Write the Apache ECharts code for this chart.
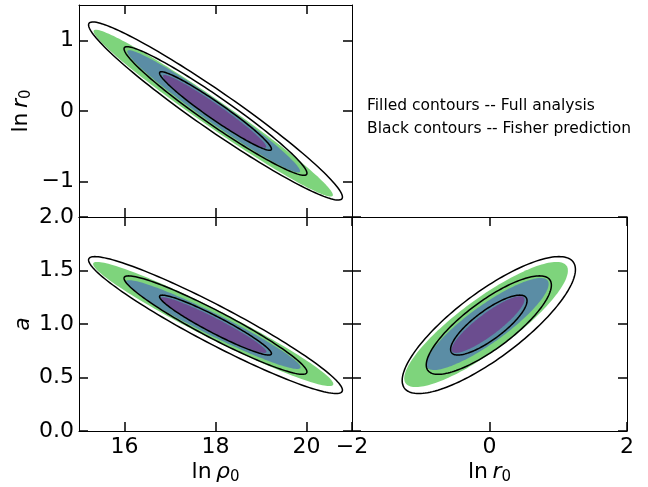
<!DOCTYPE html>
<html>
<head>
<meta charset="utf-8">
<script src="https://cdn.jsdelivr.net/npm/echarts@6/dist/echarts.min.js"></script>
<style>
html,body{margin:0;padding:0;background:#fff;}
#chart{width:648px;height:487px;}
</style>
</head>
<body>
<div id="chart"></div>
<script>
// tick positions
var rhoTicks = [16, 18, 20];
var r0Ticks = [-1, 0, 1];
var r0TicksWide = [-2, 0, 2];
var aTicks = [0, 0.5, 1, 1.5, 2];

// contour rows: [centre x, centre y, half width x, half width y, correlation]
// order: outer (green), middle (blue), inner (purple)
var fullRhoR0 = [[17.95, -0.03, 2.63, 1.18, -0.981], [17.96, -0.005, 1.90, 0.865, -0.977], [17.98, -0.005, 1.135, 0.515, -0.972]];
var fisherRhoR0 = [[18.0, 0.0, 2.79, 1.26, -0.966], [18.0, 0.0, 2.01, 0.91, -0.966], [18.0, 0.0, 1.23, 0.556, -0.966]];
var fullRhoA = [[17.95, 1.0, 2.64, 0.58, -0.966], [17.95, 0.995, 1.92, 0.415, -0.962], [17.96, 0.99, 1.16, 0.26, -0.958]];
var fisherRhoA = [[18.0, 0.99, 2.79, 0.64, -0.95], [18.0, 0.99, 2.01, 0.46, -0.95], [18.0, 0.99, 1.23, 0.28, -0.95]];
var fullR0A = [[-0.05, 0.995, 1.19, 0.585, 0.86], [-0.03, 1.0, 0.89, 0.43, 0.87], [-0.02, 0.995, 0.53, 0.265, 0.88]];
var fisherR0A = [[-0.01, 0.99, 1.26, 0.64, 0.81], [-0.01, 0.99, 0.91, 0.46, 0.81], [-0.01, 0.99, 0.556, 0.28, 0.81]];

var fillColors = ['#7ed47c', '#5b8da5', '#6b4d8f'];
var FONT = 'DejaVu Sans';

var chart = echarts.init(document.getElementById('chart'));

function minus(v){
    return String(v).replace('-', '\u2212');
}

function ellipseItem(filled){
    return function(params, api){
        var cx = api.value(0), cy = api.value(1), hx = api.value(2), hy = api.value(3), rho = api.value(4);
        var s = Math.sqrt(1 - rho * rho), pts = [];
        for (var i = 0; i < 160; i++) {
            var t = i / 160 * Math.PI * 2;
            pts.push(api.coord([cx + hx * Math.cos(t), cy + hy * (rho * Math.cos(t) + s * Math.sin(t))]));
        }
        return {
            type: 'polygon',
            shape: {points: pts},
            style: filled ? {fill: fillColors[params.dataIndex], stroke: null}
                          : {fill: 'none', stroke: '#000', lineWidth: 1.5}
        };
    };
}

var nameRich = {
    n: {fontSize: 22, fontFamily: FONT, color: '#000'},
    i: {fontSize: 22, fontFamily: FONT, fontStyle: 'italic', color: '#000'},
    s: {fontSize: 15, fontFamily: FONT, color: '#000', padding: [10, 0, 0, 0]}
};

function axis(grid, pos, min, max, ticks, fmt, name){
    var isX = pos === 'bottom' || pos === 'top';
    var a = {
        type: 'value',
        gridIndex: grid,
        position: pos,
        min: min,
        max: max,
        axisLine: {show: true, onZero: false, lineStyle: {color: '#000', width: 1}},
        axisTick: {show: true, inside: true, length: 9, customValues: ticks, lineStyle: {color: '#000', width: 1.5}},
        axisLabel: {show: !!fmt, customValues: ticks, formatter: fmt || '', fontSize: 22, fontFamily: FONT, color: '#000', margin: 5},
        splitLine: {show: false}
    };
    if (name) {
        a.name = name;
        a.nameLocation = 'middle';
        a.nameGap = isX ? 29 : 45;
        a.nameTextStyle = {rich: nameRich};
    }
    return a;
}

var intFmt = function(v){ return minus(v); };
var decFmt = function(v){ return v.toFixed(1); };

var option = {
    animation: false,
    backgroundColor: '#fff',
    grid: [
        {left: 79, top: 5, width: 273, height: 212},
        {left: 79, top: 217, width: 273, height: 214},
        {left: 352, top: 217, width: 275, height: 214}
    ],
    xAxis: [
        axis(0, 'bottom', 15, 21, rhoTicks, null),
        axis(0, 'top', 15, 21, rhoTicks, null),
        axis(1, 'bottom', 15, 21, rhoTicks, intFmt, '{n|ln\u2009}{i|\u03c1}{s|0}'),
        axis(1, 'top', 15, 21, rhoTicks, null),
        axis(2, 'bottom', -2, 2, r0TicksWide, intFmt, '{n|ln\u2009}{i|r}{s|0}'),
        axis(2, 'top', -2, 2, r0TicksWide, null)
    ],
    yAxis: [
        axis(0, 'left', -1.5, 1.5, r0Ticks, intFmt, '{n|ln\u2009}{i|r}{s|0}'),
        axis(0, 'right', -1.5, 1.5, r0Ticks, null),
        axis(1, 'left', 0, 2, aTicks, decFmt, '{i|a}'),
        axis(1, 'right', 0, 2, aTicks, null),
        axis(2, 'left', 0, 2, aTicks, null),
        axis(2, 'right', 0, 2, aTicks, null)
    ],
    graphic: [
        {type: 'text', x: 367, y: 106, style: {text: 'Filled contours -- Full analysis', font: '15.5px "DejaVu Sans"', fill: '#000', verticalAlign: 'middle'}},
        {type: 'text', x: 367, y: 129, style: {text: 'Black contours -- Fisher prediction', font: '15.5px "DejaVu Sans"', fill: '#000', verticalAlign: 'middle'}}
    ],
    series: [
        {type: 'custom', xAxisIndex: 0, yAxisIndex: 0, renderItem: ellipseItem(true), data: fullRhoR0, encode: {x: 0, y: 1}, silent: true},
        {type: 'custom', xAxisIndex: 0, yAxisIndex: 0, renderItem: ellipseItem(false), data: fisherRhoR0, encode: {x: 0, y: 1}, silent: true},
        {type: 'custom', xAxisIndex: 2, yAxisIndex: 2, renderItem: ellipseItem(true), data: fullRhoA, encode: {x: 0, y: 1}, silent: true},
        {type: 'custom', xAxisIndex: 2, yAxisIndex: 2, renderItem: ellipseItem(false), data: fisherRhoA, encode: {x: 0, y: 1}, silent: true},
        {type: 'custom', xAxisIndex: 4, yAxisIndex: 4, renderItem: ellipseItem(true), data: fullR0A, encode: {x: 0, y: 1}, silent: true},
        {type: 'custom', xAxisIndex: 4, yAxisIndex: 4, renderItem: ellipseItem(false), data: fisherR0A, encode: {x: 0, y: 1}, silent: true}
    ]
};

chart.setOption(option);
</script>
</body>
</html>
